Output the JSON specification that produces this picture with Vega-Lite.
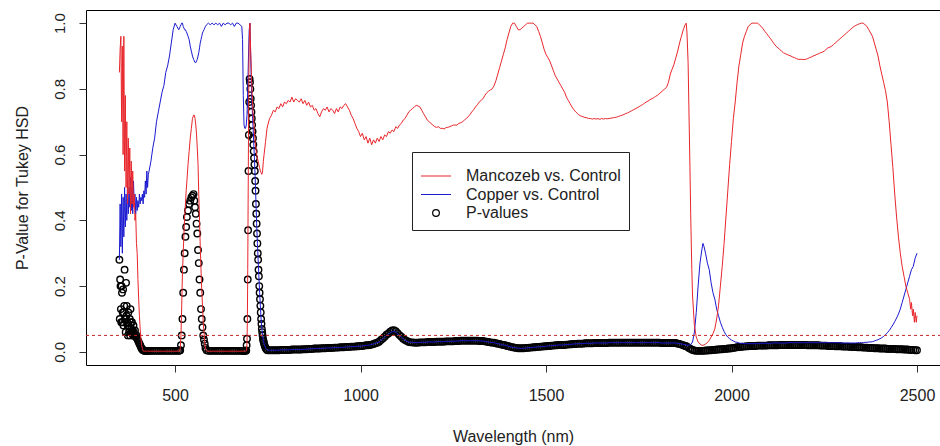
{
"$schema": "https://vega.github.io/schema/vega-lite/v6.json",
"width": 854, "height": 355,
"autosize": {"type": "none"},
"padding": {"left": 86, "top": 10, "right": 0, "bottom": 81},
"background": "white",
"config": {
  "view": {"stroke": "black", "strokeWidth": 1},
  "font": "Liberation Sans",
  "axis": {"grid": false, "domain": false, "tickColor": "#333", "tickSize": 7, "labelColor": "#222", "titleColor": "#222", "titleFontWeight": "normal", "labelFont": "Liberation Sans", "titleFont": "Liberation Sans"}
},
"data": {"values": [
{"w":350,"m":0.85,"c":0.28,"p":0.28},{"w":351,"p":0.1},{"w":352,"m":0.92,"c":0.45,"p":0.22},{"w":353,"p":0.2},{"w":354,"m":0.96,"c":0.32,"p":0.13},{"w":355,"p":0.09},{"w":356,"m":0.7,"c":0.48,"p":0.2},{"w":357,"p":0.18},{"w":358,"m":0.93,"c":0.3,"p":0.09},{"w":359,"p":0.12},
{"w":360,"m":0.6,"c":0.47,"p":0.19},{"w":361,"p":0.08},{"w":362,"m":0.96,"c":0.35,"p":0.12},{"w":363,"p":0.14},{"w":364,"m":0.55,"c":0.5,"p":0.25},{"w":365,"p":0.1},{"w":366,"m":0.78,"c":0.38,"p":0.1},{"w":367,"p":0.06},{"w":368,"m":0.5,"c":0.48,"p":0.21},{"w":369,"p":0.11},
{"w":370,"m":0.7,"c":0.4,"p":0.14},{"w":371,"p":0.09},{"w":372,"m":0.45,"c":0.52,"p":0.08},{"w":373,"p":0.05},{"w":374,"m":0.65,"c":0.42,"p":0.12},{"w":375,"p":0.08},{"w":376,"m":0.48,"c":0.5,"p":0.06},{"w":377,"p":0.07},{"w":378,"m":0.62,"c":0.44,"p":0.1},{"w":379,"p":0.05},
{"w":380,"m":0.42,"c":0.53,"p":0.13},{"w":381,"p":0.09},{"w":382,"m":0.58,"c":0.43,"p":0.07},{"w":383,"p":0.06},{"w":384,"m":0.45,"c":0.5,"p":0.09},{"w":385,"p":0.055},{"w":386,"m":0.55,"c":0.42,"p":0.06},{"w":387,"p":0.05},{"w":388,"m":0.44,"c":0.52,"p":0.08},{"w":389,"p":0.06},
{"w":390,"m":0.48,"c":0.45,"p":0.05},{"w":392,"m":0.4,"c":0.48,"p":0.065},{"w":394,"m":0.42,"c":0.42,"p":0.045},{"w":396,"m":0.33,"c":0.47,"p":0.05},{"w":398,"m":0.3,"c":0.43,"p":0.04},
{"w":400,"m":0.22,"c":0.46,"p":0.035},{"w":402,"m":0.16,"c":0.44,"p":0.03},{"w":404,"m":0.11,"c":0.48,"p":0.025},{"w":406,"m":0.07,"c":0.45,"p":0.02},{"w":408,"m":0.04,"c":0.47,"p":0.015},
{"w":410,"m":0.02,"c":0.46,"p":0.01},{"w":412,"m":0.01,"c":0.48,"p":0.007},{"w":414,"m":0.003,"c":0.45,"p":0.005},{"w":416,"m":0.002,"c":0.49,"p":0.004},{"w":418,"m":0.002,"c":0.47,"p":0.003},
{"w":420,"m":0.002,"c":0.52,"p":0.003},{"w":422,"m":0.002,"c":0.48,"p":0.003},{"w":424,"m":0.002,"c":0.55,"p":0.003},{"w":426,"m":0.002,"c":0.5,"p":0.003},{"w":428,"m":0.002,"c":0.54,"p":0.003},
{"w":430,"m":0.002,"c":0.55,"p":0.003},{"w":435,"m":0.002,"c":0.58,"p":0.003},{"w":440,"m":0.002,"c":0.62,"p":0.003},{"w":445,"m":0.002,"c":0.65,"p":0.003},{"w":450,"m":0.002,"c":0.7,"p":0.003},
{"w":455,"m":0.002,"c":0.73,"p":0.003},{"w":460,"m":0.002,"c":0.76,"p":0.003},{"w":465,"m":0.002,"c":0.79,"p":0.003},{"w":470,"m":0.002,"c":0.81,"p":0.003},{"w":475,"m":0.002,"c":0.85,"p":0.003},
{"w":480,"m":0.002,"c":0.87,"p":0.003},{"w":485,"m":0.002,"c":0.9,"p":0.003},{"w":490,"m":0.002,"c":0.94,"p":0.003},{"w":495,"m":0.002,"c":0.98,"p":0.003},{"w":500,"m":0.002,"c":1.0,"p":0.003},
{"w":505,"m":0.002,"c":0.99,"p":0.003},{"w":510,"m":0.002,"c":0.98,"p":0.003},{"w":512,"m":0.002,"c":0.985,"p":0.004},{"w":514,"m":0.01,"c":0.99,"p":0.005},{"w":516,"m":0.05,"c":0.995,"p":0.02},
{"w":518,"m":0.14,"c":1.0,"p":0.05},{"w":520,"m":0.24,"c":1.0,"p":0.1},{"w":522,"m":0.3,"c":0.99,"p":0.18},{"w":524,"m":0.36,"c":0.985,"p":0.25},{"w":526,"m":0.41,"c":0.98,"p":0.3},
{"w":528,"m":0.45,"c":0.98,"p":0.35},{"w":530,"m":0.49,"c":0.975,"p":0.38},{"w":532,"m":0.52,"c":0.97,"p":0.41},{"w":535,"m":0.57,"c":0.96,"p":0.43},{"w":538,"m":0.61,"c":0.95,"p":0.45},
{"w":541,"m":0.65,"c":0.93,"p":0.46},{"w":544,"m":0.68,"c":0.915,"p":0.47},{"w":547,"m":0.71,"c":0.9,"p":0.475},{"w":550,"m":0.72,"c":0.89,"p":0.48},{"w":552,"m":0.72,"c":0.885,"p":0.46},
{"w":554,"m":0.71,"c":0.88,"p":0.44},{"w":556,"m":0.69,"c":0.88,"p":0.42},{"w":558,"m":0.66,"c":0.885,"p":0.39},{"w":560,"m":0.62,"c":0.89,"p":0.36},{"w":562,"m":0.57,"c":0.9,"p":0.31},
{"w":564,"m":0.48,"c":0.91,"p":0.27},{"w":566,"m":0.4,"c":0.925,"p":0.22},{"w":568,"m":0.32,"c":0.94,"p":0.18},{"w":570,"m":0.25,"c":0.95,"p":0.13},{"w":572,"m":0.19,"c":0.96,"p":0.1},
{"w":574,"m":0.14,"c":0.97,"p":0.075},{"w":576,"m":0.09,"c":0.975,"p":0.05},{"w":578,"m":0.06,"c":0.98,"p":0.037},{"w":580,"m":0.03,"c":0.985,"p":0.025},{"w":582,"m":0.01,"c":0.99,"p":0.012},
{"w":585,"m":0.003,"c":0.995,"p":0.005},{"w":590,"m":0.002,"c":1.0,"p":0.003},{"w":595,"m":0.002,"c":0.995,"p":0.003},{"w":600,"m":0.002,"c":1.0,"p":0.003},{"w":605,"m":0.002,"c":0.995,"p":0.003},
{"w":610,"m":0.002,"c":1.0,"p":0.003},{"w":615,"m":0.002,"c":0.995,"p":0.003},{"w":620,"m":0.002,"c":1.0,"p":0.003},{"w":625,"m":0.002,"c":0.99,"p":0.003},{"w":630,"m":0.002,"c":1.0,"p":0.003},
{"w":635,"m":0.002,"c":0.995,"p":0.003},{"w":640,"m":0.002,"c":1.0,"p":0.003},{"w":645,"m":0.002,"c":1.0,"p":0.003},{"w":650,"m":0.002,"c":0.995,"p":0.003},{"w":655,"m":0.002,"c":1.0,"p":0.003},
{"w":660,"m":0.002,"c":0.99,"p":0.003},{"w":665,"m":0.002,"c":1.0,"p":0.003},{"w":670,"m":0.002,"c":1.0,"p":0.003},{"w":675,"m":0.002,"c":0.995,"p":0.003},{"w":680,"m":0.002,"c":0.99,"p":0.003},
{"w":682,"m":0.002,"c":0.95,"p":0.003},{"w":684,"m":0.002,"c":0.78,"p":0.003},{"w":686,"m":0.002,"c":0.69,"p":0.003},{"w":688,"m":0.002,"c":0.68,"p":0.003},{"w":690,"m":0.002,"c":0.68,"p":0.003},
{"w":692,"m":0.003,"c":0.69,"p":0.004},{"w":693,"m":0.005,"p":0.02},{"w":694,"m":0.03,"c":0.72,"p":0.04},{"w":695,"m":0.1,"p":0.1},{"w":696,"m":0.25,"c":0.8,"p":0.22},{"w":697,"m":0.45,"p":0.37},
{"w":698,"m":0.65,"c":0.9,"p":0.55},{"w":699,"m":0.85,"p":0.66},{"w":700,"m":0.94,"c":0.98,"p":0.76},{"w":701,"m":0.98,"p":0.83},{"w":702,"m":1.0,"c":1.0,"p":0.82},{"w":703,"m":0.95,"p":0.8},
{"w":704,"m":0.91,"c":0.9,"p":0.77},{"w":705,"m":0.88,"p":0.75},{"w":706,"m":0.84,"c":0.8,"p":0.73},{"w":707,"m":0.81,"p":0.71},{"w":708,"m":0.78,"c":0.74,"p":0.69},{"w":709,"p":0.67},
{"w":710,"m":0.73,"c":0.69,"p":0.65},{"w":711,"p":0.63},{"w":712,"m":0.7,"c":0.64,"p":0.61},{"w":713,"p":0.59},{"w":714,"m":0.67,"c":0.59,"p":0.57},{"w":715,"p":0.55},{"w":716,"m":0.64,"c":0.53,"p":0.52},
{"w":717,"p":0.49},{"w":718,"m":0.62,"c":0.46,"p":0.45},{"w":719,"p":0.42},{"w":720,"m":0.6,"c":0.39,"p":0.39},{"w":721,"p":0.36},{"w":722,"m":0.59,"c":0.33,"p":0.33},{"w":723,"p":0.3},
{"w":724,"m":0.58,"c":0.28,"p":0.28},{"w":725,"p":0.25},{"w":726,"m":0.57,"c":0.23,"p":0.23},{"w":727,"p":0.2},{"w":728,"m":0.56,"c":0.18,"p":0.18},{"w":729,"p":0.16},{"w":730,"m":0.55,"c":0.14,"p":0.14},
{"w":731,"p":0.12},{"w":732,"m":0.545,"c":0.1,"p":0.1},{"w":733,"p":0.085},{"w":734,"m":0.54,"c":0.07,"p":0.07},{"w":735,"p":0.06},{"w":736,"m":0.55,"c":0.05,"p":0.05},{"w":737,"p":0.04},
{"w":738,"m":0.58,"c":0.035,"p":0.035},{"w":739,"p":0.03},{"w":740,"m":0.6,"c":0.025,"p":0.025},{"w":742,"m":0.62,"c":0.018,"p":0.018},{"w":744,"m":0.64,"c":0.012,"p":0.012},{"w":746,"m":0.66,"c":0.009,"p":0.009},
{"w":748,"m":0.68,"c":0.006,"p":0.006},{"w":750,"m":0.69,"c":0.005,"p":0.005},
{"w":755,"m":0.71,"c":0.005,"p":0.005},{"w":760,"m":0.72,"c":0.005,"p":0.005},{"w":765,"m":0.735,"c":0.005,"p":0.005},{"w":770,"m":0.73,"c":0.005,"p":0.005},{"w":775,"m":0.745,"c":0.005,"p":0.005},
{"w":780,"m":0.74,"c":0.005,"p":0.005},{"w":785,"m":0.755,"c":0.006,"p":0.006},{"w":790,"m":0.745,"c":0.006,"p":0.006},{"w":795,"m":0.76,"c":0.006,"p":0.006},{"w":800,"m":0.755,"c":0.006,"p":0.006},
{"w":805,"m":0.765,"c":0.006,"p":0.006},{"w":810,"m":0.76,"c":0.006,"p":0.006},{"w":815,"m":0.775,"c":0.007,"p":0.007},{"w":820,"m":0.76,"c":0.007,"p":0.007},{"w":825,"m":0.77,"c":0.007,"p":0.007},
{"w":830,"m":0.765,"c":0.007,"p":0.007},{"w":835,"m":0.76,"c":0.007,"p":0.007},{"w":840,"m":0.77,"c":0.007,"p":0.007},{"w":845,"m":0.755,"c":0.008,"p":0.008},{"w":850,"m":0.765,"c":0.008,"p":0.008},
{"w":855,"m":0.75,"c":0.008,"p":0.008},{"w":860,"m":0.76,"c":0.009,"p":0.009},{"w":865,"m":0.745,"c":0.009,"p":0.009},{"w":870,"m":0.75,"c":0.009,"p":0.009},{"w":875,"m":0.735,"c":0.01,"p":0.01},
{"w":880,"m":0.74,"c":0.01,"p":0.01},{"w":885,"m":0.725,"c":0.01,"p":0.01},{"w":890,"m":0.715,"c":0.01,"p":0.01},{"w":895,"m":0.73,"c":0.011,"p":0.011},{"w":900,"m":0.74,"c":0.011,"p":0.011},
{"w":905,"m":0.735,"c":0.011,"p":0.011},{"w":910,"m":0.745,"c":0.012,"p":0.012},{"w":915,"m":0.73,"c":0.012,"p":0.012},{"w":920,"m":0.74,"c":0.012,"p":0.012},{"w":925,"m":0.735,"c":0.012,"p":0.012},
{"w":930,"m":0.725,"c":0.013,"p":0.013},{"w":935,"m":0.74,"c":0.013,"p":0.013},{"w":940,"m":0.73,"c":0.013,"p":0.013},{"w":945,"m":0.745,"c":0.014,"p":0.014},{"w":950,"m":0.74,"c":0.014,"p":0.014},
{"w":955,"m":0.75,"c":0.014,"p":0.014},{"w":960,"m":0.755,"c":0.015,"p":0.015},{"w":965,"m":0.745,"c":0.015,"p":0.015},{"w":970,"m":0.735,"c":0.015,"p":0.015},{"w":975,"m":0.72,"c":0.016,"p":0.016},
{"w":980,"m":0.71,"c":0.016,"p":0.016},{"w":985,"m":0.695,"c":0.016,"p":0.016},{"w":990,"m":0.68,"c":0.017,"p":0.017},{"w":995,"m":0.67,"c":0.017,"p":0.017},{"w":1000,"m":0.655,"c":0.017,"p":0.018},
{"w":1005,"m":0.665,"c":0.018,"p":0.018},{"w":1010,"m":0.645,"c":0.019,"p":0.019},{"w":1015,"m":0.655,"c":0.02,"p":0.02},{"w":1020,"m":0.635,"c":0.02,"p":0.02},{"w":1025,"m":0.65,"c":0.021,"p":0.021},
{"w":1030,"m":0.63,"c":0.022,"p":0.022},{"w":1035,"m":0.645,"c":0.024,"p":0.024},{"w":1040,"m":0.635,"c":0.026,"p":0.026},{"w":1045,"m":0.65,"c":0.028,"p":0.028},{"w":1050,"m":0.64,"c":0.03,"p":0.031},
{"w":1055,"m":0.655,"c":0.035,"p":0.036},{"w":1060,"m":0.645,"c":0.04,"p":0.041},{"w":1065,"m":0.66,"c":0.045,"p":0.046},{"w":1070,"m":0.655,"c":0.05,"p":0.052},{"w":1075,"m":0.67,"c":0.054,"p":0.056},
{"w":1080,"m":0.665,"c":0.058,"p":0.061},{"w":1085,"m":0.675,"c":0.061,"p":0.065},{"w":1090,"m":0.67,"c":0.062,"p":0.066},{"w":1095,"m":0.685,"c":0.06,"p":0.063},{"w":1100,"m":0.68,"c":0.055,"p":0.057},
{"w":1105,"m":0.69,"c":0.05,"p":0.051},{"w":1110,"m":0.695,"c":0.045,"p":0.046},{"w":1115,"m":0.705,"c":0.04,"p":0.04},{"w":1120,"m":0.71,"c":0.035,"p":0.036},{"w":1125,"m":0.72,"c":0.032,"p":0.033},
{"w":1130,"m":0.73,"c":0.03,"p":0.03},{"w":1135,"m":0.735,"c":0.029,"p":0.029},{"w":1140,"m":0.74,"c":0.029,"p":0.029},{"w":1145,"m":0.745,"c":0.028,"p":0.028},{"w":1150,"m":0.75,"c":0.028,"p":0.028},
{"w":1155,"m":0.748,"c":0.028,"p":0.028},{"w":1160,"m":0.745,"c":0.029,"p":0.029},{"w":1165,"m":0.735,"c":0.029,"p":0.029},{"w":1170,"m":0.725,"c":0.029,"p":0.029},{"w":1175,"m":0.715,"c":0.029,"p":0.029},
{"w":1180,"m":0.705,"c":0.03,"p":0.03},{"w":1185,"m":0.7,"c":0.03,"p":0.03},{"w":1190,"m":0.695,"c":0.03,"p":0.03},{"w":1195,"m":0.69,"c":0.03,"p":0.03},{"w":1200,"m":0.685,"c":0.03,"p":0.03},
{"w":1205,"m":0.683,"c":0.031,"p":0.031},{"w":1210,"m":0.685,"c":0.031,"p":0.031},{"w":1215,"m":0.68,"c":0.031,"p":0.031},{"w":1220,"m":0.68,"c":0.031,"p":0.031},{"w":1225,"m":0.678,"c":0.031,"p":0.031},
{"w":1230,"m":0.682,"c":0.032,"p":0.032},{"w":1235,"m":0.683,"c":0.032,"p":0.032},{"w":1240,"m":0.685,"c":0.032,"p":0.032},{"w":1245,"m":0.687,"c":0.032,"p":0.032},{"w":1250,"m":0.69,"c":0.032,"p":0.032},
{"w":1255,"m":0.69,"c":0.033,"p":0.033},{"w":1260,"m":0.69,"c":0.033,"p":0.033},{"w":1265,"m":0.695,"c":0.033,"p":0.033},{"w":1270,"m":0.697,"c":0.034,"p":0.034},{"w":1275,"m":0.7,"c":0.034,"p":0.034},
{"w":1280,"m":0.705,"c":0.034,"p":0.034},{"w":1285,"m":0.71,"c":0.034,"p":0.034},{"w":1290,"m":0.715,"c":0.034,"p":0.034},{"w":1295,"m":0.722,"c":0.034,"p":0.034},{"w":1300,"m":0.73,"c":0.034,"p":0.034},
{"w":1305,"m":0.737,"c":0.034,"p":0.034},{"w":1310,"m":0.745,"c":0.034,"p":0.034},{"w":1315,"m":0.752,"c":0.034,"p":0.034},{"w":1320,"m":0.76,"c":0.033,"p":0.033},{"w":1325,"m":0.765,"c":0.033,"p":0.033},
{"w":1330,"m":0.77,"c":0.033,"p":0.033},{"w":1335,"m":0.78,"c":0.032,"p":0.032},{"w":1340,"m":0.788,"c":0.031,"p":0.031},{"w":1345,"m":0.793,"c":0.03,"p":0.03},{"w":1350,"m":0.797,"c":0.029,"p":0.029},
{"w":1355,"m":0.8,"c":0.028,"p":0.028},{"w":1360,"m":0.81,"c":0.028,"p":0.028},{"w":1365,"m":0.825,"c":0.026,"p":0.026},{"w":1370,"m":0.845,"c":0.025,"p":0.025},{"w":1375,"m":0.865,"c":0.024,"p":0.024},
{"w":1380,"m":0.885,"c":0.022,"p":0.022},{"w":1385,"m":0.905,"c":0.021,"p":0.021},{"w":1390,"m":0.925,"c":0.02,"p":0.02},{"w":1395,"m":0.95,"c":0.018,"p":0.018},{"w":1400,"m":0.97,"c":0.017,"p":0.017},
{"w":1405,"m":0.99,"c":0.015,"p":0.015},{"w":1410,"m":1.0,"c":0.014,"p":0.014},{"w":1415,"m":1.0,"c":0.013,"p":0.013},{"w":1420,"m":0.99,"c":0.012,"p":0.012},{"w":1425,"m":0.98,"c":0.011,"p":0.011},
{"w":1430,"m":0.98,"c":0.011,"p":0.011},{"w":1435,"m":0.985,"c":0.011,"p":0.011},{"w":1440,"m":0.99,"c":0.011,"p":0.011},{"w":1445,"m":0.995,"c":0.012,"p":0.012},{"w":1450,"m":1.0,"c":0.012,"p":0.012},
{"w":1455,"m":1.0,"c":0.013,"p":0.013},{"w":1460,"m":1.0,"c":0.013,"p":0.013},{"w":1465,"m":1.0,"c":0.014,"p":0.014},{"w":1470,"m":0.995,"c":0.014,"p":0.014},{"w":1475,"m":0.99,"c":0.015,"p":0.015},
{"w":1480,"m":0.975,"c":0.015,"p":0.015},{"w":1485,"m":0.96,"c":0.016,"p":0.016},{"w":1490,"m":0.94,"c":0.016,"p":0.016},{"w":1495,"m":0.92,"c":0.017,"p":0.017},{"w":1500,"m":0.905,"c":0.017,"p":0.017},
{"w":1505,"m":0.895,"c":0.018,"p":0.018},{"w":1510,"m":0.885,"c":0.018,"p":0.018},{"w":1515,"m":0.87,"c":0.019,"p":0.019},{"w":1520,"m":0.855,"c":0.019,"p":0.019},{"w":1525,"m":0.84,"c":0.02,"p":0.02},
{"w":1530,"m":0.83,"c":0.02,"p":0.02},{"w":1535,"m":0.82,"c":0.021,"p":0.021},{"w":1540,"m":0.81,"c":0.021,"p":0.021},{"w":1545,"m":0.8,"c":0.021,"p":0.021},{"w":1550,"m":0.79,"c":0.021,"p":0.021},
{"w":1555,"m":0.775,"c":0.022,"p":0.022},{"w":1560,"m":0.765,"c":0.022,"p":0.022},{"w":1565,"m":0.755,"c":0.023,"p":0.023},{"w":1570,"m":0.745,"c":0.023,"p":0.023},{"w":1575,"m":0.737,"c":0.024,"p":0.024},
{"w":1580,"m":0.73,"c":0.024,"p":0.024},{"w":1585,"m":0.725,"c":0.025,"p":0.025},{"w":1590,"m":0.72,"c":0.025,"p":0.025},{"w":1595,"m":0.717,"c":0.025,"p":0.025},{"w":1600,"m":0.715,"c":0.025,"p":0.025},
{"w":1605,"m":0.713,"c":0.026,"p":0.026},{"w":1610,"m":0.712,"c":0.026,"p":0.026},{"w":1615,"m":0.71,"c":0.026,"p":0.026},{"w":1620,"m":0.71,"c":0.026,"p":0.026},{"w":1625,"m":0.708,"c":0.026,"p":0.026},
{"w":1630,"m":0.71,"c":0.027,"p":0.027},{"w":1635,"m":0.708,"c":0.027,"p":0.027},{"w":1640,"m":0.71,"c":0.027,"p":0.027},{"w":1645,"m":0.707,"c":0.027,"p":0.027},{"w":1650,"m":0.71,"c":0.027,"p":0.027},
{"w":1655,"m":0.708,"c":0.027,"p":0.027},{"w":1660,"m":0.71,"c":0.027,"p":0.027},{"w":1665,"m":0.709,"c":0.027,"p":0.027},{"w":1670,"m":0.71,"c":0.028,"p":0.028},{"w":1675,"m":0.711,"c":0.028,"p":0.028},
{"w":1680,"m":0.712,"c":0.028,"p":0.028},{"w":1685,"m":0.713,"c":0.028,"p":0.028},{"w":1690,"m":0.714,"c":0.028,"p":0.028},{"w":1695,"m":0.716,"c":0.028,"p":0.028},{"w":1700,"m":0.718,"c":0.028,"p":0.028},
{"w":1705,"m":0.72,"c":0.028,"p":0.028},{"w":1710,"m":0.722,"c":0.028,"p":0.028},{"w":1715,"m":0.725,"c":0.028,"p":0.028},{"w":1720,"m":0.727,"c":0.028,"p":0.028},{"w":1725,"m":0.73,"c":0.028,"p":0.028},
{"w":1730,"m":0.733,"c":0.028,"p":0.028},{"w":1735,"m":0.736,"c":0.028,"p":0.028},{"w":1740,"m":0.739,"c":0.028,"p":0.028},{"w":1745,"m":0.742,"c":0.028,"p":0.028},{"w":1750,"m":0.745,"c":0.028,"p":0.028},
{"w":1755,"m":0.749,"c":0.028,"p":0.028},{"w":1760,"m":0.752,"c":0.028,"p":0.028},{"w":1765,"m":0.756,"c":0.028,"p":0.028},{"w":1770,"m":0.76,"c":0.028,"p":0.028},{"w":1775,"m":0.763,"c":0.028,"p":0.028},
{"w":1780,"m":0.767,"c":0.028,"p":0.028},{"w":1785,"m":0.77,"c":0.028,"p":0.028},{"w":1790,"m":0.773,"c":0.028,"p":0.028},{"w":1795,"m":0.777,"c":0.028,"p":0.028},{"w":1800,"m":0.78,"c":0.028,"p":0.028},
{"w":1805,"m":0.785,"c":0.028,"p":0.028},{"w":1810,"m":0.79,"c":0.027,"p":0.027},{"w":1815,"m":0.795,"c":0.027,"p":0.027},{"w":1820,"m":0.8,"c":0.027,"p":0.027},{"w":1825,"m":0.805,"c":0.027,"p":0.027},
{"w":1830,"m":0.82,"c":0.027,"p":0.027},{"w":1835,"m":0.845,"c":0.027,"p":0.027},{"w":1840,"m":0.86,"c":0.027,"p":0.027},{"w":1845,"m":0.875,"c":0.027,"p":0.027},{"w":1850,"m":0.895,"c":0.027,"p":0.027},
{"w":1855,"m":0.915,"c":0.026,"p":0.025},{"w":1860,"m":0.94,"c":0.025,"p":0.024},{"w":1865,"m":0.96,"c":0.024,"p":0.022},{"w":1870,"m":0.98,"c":0.023,"p":0.02},{"w":1875,"m":0.995,"c":0.022,"p":0.018},
{"w":1878,"m":1.0,"c":0.021,"p":0.017},{"w":1880,"m":0.97,"c":0.02,"p":0.016},{"w":1883,"m":0.88},{"w":1885,"m":0.75,"c":0.02,"p":0.012},{"w":1888,"m":0.56},{"w":1890,"m":0.42,"c":0.022,"p":0.009},
{"w":1893,"m":0.25},{"w":1895,"m":0.17,"c":0.03,"p":0.006},{"w":1900,"m":0.08,"c":0.06,"p":0.004},{"w":1905,"m":0.045,"c":0.12,"p":0.003},{"w":1910,"m":0.03,"c":0.2,"p":0.003},
{"w":1915,"m":0.024,"c":0.27,"p":0.003},{"w":1920,"m":0.02,"c":0.31,"p":0.003},{"w":1923,"m":0.02,"c":0.33},{"w":1925,"p":0.003},{"w":1926,"m":0.021,"c":0.32},{"w":1930,"m":0.024,"c":0.3,"p":0.004},
{"w":1935,"m":0.028,"c":0.27,"p":0.004},{"w":1940,"m":0.035,"c":0.25,"p":0.005},{"w":1945,"m":0.045,"c":0.21,"p":0.005},{"w":1950,"m":0.055,"c":0.18,"p":0.006},{"w":1955,"m":0.07,"c":0.16,"p":0.006},
{"w":1960,"m":0.1,"c":0.13,"p":0.007},{"w":1965,"m":0.14,"c":0.11,"p":0.007},{"w":1970,"m":0.2,"c":0.09,"p":0.008},{"w":1975,"m":0.26,"c":0.075,"p":0.008},{"w":1980,"m":0.33,"c":0.062,"p":0.009},
{"w":1985,"m":0.41,"c":0.052,"p":0.009},{"w":1990,"m":0.49,"c":0.045,"p":0.01},{"w":1995,"m":0.57,"c":0.04,"p":0.01},{"w":2000,"m":0.64,"c":0.036,"p":0.011},{"w":2005,"m":0.71,"c":0.033,"p":0.012},
{"w":2010,"m":0.76,"c":0.03,"p":0.013},{"w":2015,"m":0.82,"c":0.029,"p":0.014},{"w":2020,"m":0.87,"c":0.027,"p":0.015},{"w":2025,"m":0.905,"c":0.026,"p":0.015},{"w":2030,"m":0.94,"c":0.026,"p":0.016},
{"w":2035,"m":0.96,"c":0.025,"p":0.016},{"w":2040,"m":0.975,"c":0.025,"p":0.017},{"w":2045,"m":0.99,"c":0.025,"p":0.017},{"w":2050,"m":0.995,"c":0.025,"p":0.018},{"w":2055,"m":1.0,"c":0.025,"p":0.018},
{"w":2060,"m":1.0,"c":0.025,"p":0.018},{"w":2065,"m":1.0,"c":0.025,"p":0.018},{"w":2070,"m":1.0,"c":0.025,"p":0.019},{"w":2075,"m":0.995,"c":0.026,"p":0.019},{"w":2080,"m":0.99,"c":0.026,"p":0.019},
{"w":2085,"m":0.983,"c":0.026,"p":0.019},{"w":2090,"m":0.975,"c":0.026,"p":0.019},{"w":2095,"m":0.968,"c":0.026,"p":0.019},{"w":2100,"m":0.96,"c":0.026,"p":0.02},{"w":2105,"m":0.953,"c":0.026,"p":0.02},
{"w":2110,"m":0.945,"c":0.027,"p":0.02},{"w":2115,"m":0.937,"c":0.027,"p":0.02},{"w":2120,"m":0.93,"c":0.027,"p":0.02},{"w":2125,"m":0.925,"c":0.027,"p":0.02},{"w":2130,"m":0.92,"c":0.027,"p":0.021},
{"w":2135,"m":0.915,"c":0.027,"p":0.021},{"w":2140,"m":0.91,"c":0.027,"p":0.021},{"w":2145,"m":0.907,"c":0.027,"p":0.021},{"w":2150,"m":0.905,"c":0.027,"p":0.021},{"w":2155,"m":0.902,"c":0.028,"p":0.021},
{"w":2160,"m":0.9,"c":0.028,"p":0.021},{"w":2165,"m":0.897,"c":0.028,"p":0.021},{"w":2170,"m":0.895,"c":0.028,"p":0.021},{"w":2175,"m":0.892,"c":0.028,"p":0.021},{"w":2180,"m":0.89,"c":0.028,"p":0.021},
{"w":2185,"m":0.89,"c":0.028,"p":0.021},{"w":2190,"m":0.89,"c":0.028,"p":0.021},{"w":2195,"m":0.889,"c":0.028,"p":0.021},{"w":2200,"m":0.89,"c":0.028,"p":0.021},{"w":2205,"m":0.892,"c":0.028,"p":0.02},
{"w":2210,"m":0.895,"c":0.028,"p":0.02},{"w":2215,"m":0.897,"c":0.028,"p":0.02},{"w":2220,"m":0.9,"c":0.028,"p":0.02},{"w":2225,"m":0.902,"c":0.028,"p":0.02},{"w":2230,"m":0.905,"c":0.028,"p":0.02},
{"w":2235,"m":0.907,"c":0.028,"p":0.02},{"w":2240,"m":0.91,"c":0.028,"p":0.019},{"w":2245,"m":0.912,"c":0.028,"p":0.019},{"w":2250,"m":0.915,"c":0.028,"p":0.019},{"w":2255,"m":0.92,"c":0.028,"p":0.019},
{"w":2260,"m":0.925,"c":0.028,"p":0.018},{"w":2265,"m":0.927,"c":0.028,"p":0.018},{"w":2270,"m":0.93,"c":0.028,"p":0.018},{"w":2275,"m":0.935,"c":0.028,"p":0.018},{"w":2280,"m":0.94,"c":0.028,"p":0.017},
{"w":2285,"m":0.945,"c":0.028,"p":0.017},{"w":2290,"m":0.95,"c":0.028,"p":0.017},{"w":2295,"m":0.955,"c":0.027,"p":0.017},{"w":2300,"m":0.96,"c":0.027,"p":0.016},{"w":2305,"m":0.965,"c":0.027,"p":0.016},
{"w":2310,"m":0.97,"c":0.027,"p":0.016},{"w":2315,"m":0.975,"c":0.027,"p":0.016},{"w":2320,"m":0.98,"c":0.027,"p":0.015},{"w":2325,"m":0.985,"c":0.027,"p":0.015},{"w":2330,"m":0.99,"c":0.027,"p":0.015},
{"w":2335,"m":0.993,"c":0.027,"p":0.015},{"w":2340,"m":0.996,"c":0.028,"p":0.014},{"w":2345,"m":0.998,"c":0.028,"p":0.014},{"w":2350,"m":1.0,"c":0.028,"p":0.014},{"w":2355,"m":1.0,"c":0.028,"p":0.013},
{"w":2360,"m":0.995,"c":0.029,"p":0.013},{"w":2365,"m":0.99,"c":0.029,"p":0.013},{"w":2370,"m":0.98,"c":0.03,"p":0.012},{"w":2375,"m":0.97,"c":0.03,"p":0.012},{"w":2380,"m":0.96,"c":0.031,"p":0.012},
{"w":2385,"m":0.94,"c":0.033,"p":0.011},{"w":2390,"m":0.92,"c":0.035,"p":0.011},{"w":2395,"m":0.9,"c":0.037,"p":0.011},{"w":2400,"m":0.87,"c":0.04,"p":0.01},{"w":2405,"m":0.845,"c":0.043,"p":0.01},
{"w":2410,"m":0.82,"c":0.047,"p":0.01},{"w":2415,"m":0.795,"c":0.052,"p":0.01},{"w":2420,"m":0.76,"c":0.058,"p":0.009},{"w":2425,"m":0.7,"c":0.065,"p":0.009},{"w":2430,"m":0.63,"c":0.073,"p":0.009},
{"w":2435,"m":0.56,"c":0.082,"p":0.009},{"w":2440,"m":0.48,"c":0.092,"p":0.009},{"w":2445,"m":0.41,"c":0.103,"p":0.008},{"w":2450,"m":0.35,"c":0.115,"p":0.008},{"w":2455,"m":0.3,"c":0.13,"p":0.008},
{"w":2460,"m":0.26,"c":0.15,"p":0.008},{"w":2465,"m":0.23,"c":0.17,"p":0.007},{"w":2470,"m":0.2,"c":0.19,"p":0.007},{"w":2475,"m":0.18,"c":0.21,"p":0.007},{"w":2480,"m":0.16,"c":0.23,"p":0.006},
{"w":2483,"m":0.13},{"w":2485,"m":0.15,"c":0.25,"p":0.006},{"w":2488,"m":0.11},{"w":2490,"m":0.13,"c":0.26,"p":0.006},{"w":2493,"m":0.09},{"w":2495,"m":0.12,"c":0.285,"p":0.005},{"w":2498,"m":0.09},{"w":2500,"m":0.11,"c":0.3,"p":0.005}
]},
"encoding": {
  "x": {"field": "w", "type": "quantitative", "scale": {"domain": [260, 2562], "nice": false, "zero": false},
        "axis": {"values": [500, 1000, 1500, 2000, 2500], "format": "d", "title": "Wavelength (nm)", "labelFontSize": 16, "titleFontSize": 16, "labelPadding": 15, "titlePadding": 25}},
  "y": {"field": "v", "type": "quantitative", "title": "P-Value for Tukey HSD",
        "scale": {"domain": [-0.04, 1.04], "nice": false, "zero": false},
        "axis": {"values": [0, 0.2, 0.4, 0.6, 0.8, 1.0], "format": ".1f", "labelAngle": -90, "labelAlign": "center", "labelBaseline": "bottom", "labelPadding": 12, "labelFontSize": 15, "titleFontSize": 16, "titlePadding": 22}},
  "color": {"field": "s", "type": "nominal",
            "scale": {"domain": ["m", "c", "p"], "range": ["#e8262b", "#1a1ad0", "#000000"]},
            "legend": {"orient": "none", "legendX": 326, "legendY": 142, "title": " ", "titleFontSize": 7, "titlePadding": 0, "strokeColor": "#222", "fillColor": "white", "padding": 8,
                       "labelExpr": "datum.value === 'm' ? 'Mancozeb vs. Control' : datum.value === 'c' ? 'Copper vs. Control' : 'P-values'",
                       "labelFontSize": 16, "labelColor": "#222", "labelOffset": 14, "symbolType": "stroke", "symbolSize": 900, "symbolStrokeWidth": 1.2, "clipHeight": 18, "rowPadding": 0.5,
                       "encode": {"symbols": {"update": {
                          "shape": {"signal": "datum.value === 'p' ? 'circle' : 'stroke'"},
                          "size": {"signal": "datum.value === 'p' ? 45 : 900"}}}}}}
},
"layer": [
  {"transform": [{"fold": ["m", "c", "p"], "as": ["s", "v"]}, {"filter": "datum.s === 'p' && isValid(datum.v)"}],
   "mark": {"type": "point", "filled": false, "size": 42, "strokeWidth": 1.4, "opacity": 1}},
  {"transform": [{"fold": ["m", "c", "p"], "as": ["s", "v"]}, {"filter": "datum.s === 'c' && isValid(datum.v)"}],
   "mark": {"type": "line", "strokeWidth": 1}},
  {"transform": [{"fold": ["m", "c", "p"], "as": ["s", "v"]}, {"filter": "datum.s === 'm' && isValid(datum.v)"}],
   "mark": {"type": "line", "strokeWidth": 1}},
  {"data": {"values": [{"ref": 0.05}]},
   "mark": {"type": "rule", "strokeDash": [3, 3], "strokeWidth": 1},
   "encoding": {"y": {"field": "ref", "type": "quantitative"}, "color": {"value": "#c62828"}, "x": {"value": 0}, "x2": {"value": 854}}}
]
}
